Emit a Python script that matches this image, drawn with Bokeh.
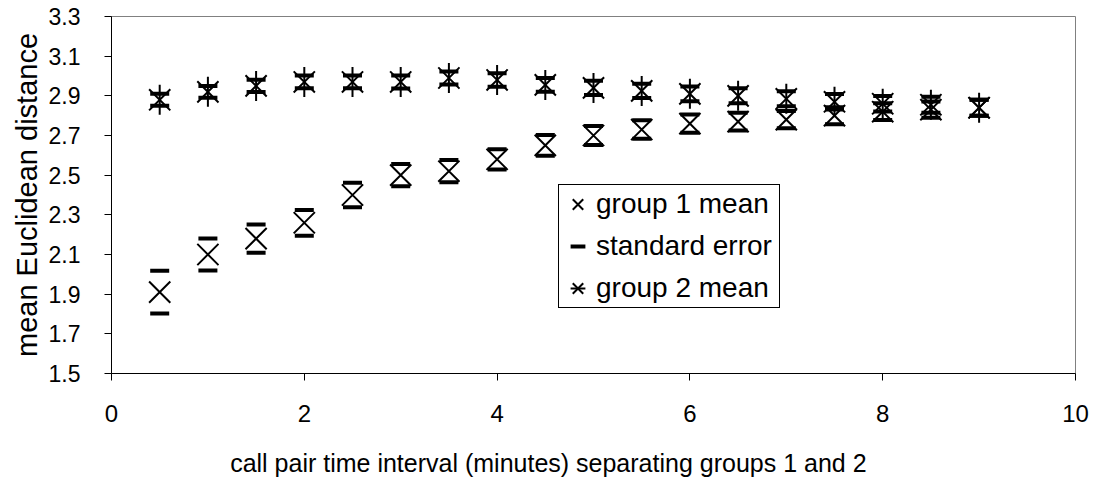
import numpy as np
from bokeh.plotting import figure
from bokeh.models import Range1d, FixedTicker, Legend, LegendItem, ColumnDataSource, NumeralTickFormatter
from bokeh.embed import file_html
from bokeh.resources import INLINE

# ---- data ----
interval = [0.5, 1.0, 1.5, 2.0, 2.5, 3.0, 3.5, 4.0, 4.5, 5.0, 5.5, 6.0, 6.5, 7.0, 7.5, 8.0, 8.5, 9.0]
group1_mean = [1.91, 2.10, 2.18, 2.26, 2.40, 2.50, 2.52, 2.58, 2.65, 2.70, 2.73, 2.76, 2.77, 2.78, 2.80, 2.82, 2.83, 2.84]
group1_se = [0.108, 0.081, 0.071, 0.065, 0.062, 0.056, 0.056, 0.051, 0.052, 0.048, 0.047, 0.046, 0.045, 0.044, 0.043, 0.042, 0.041, 0.040]
group2_mean = [2.88, 2.92, 2.95, 2.97, 2.97, 2.97, 2.99, 2.98, 2.955, 2.94, 2.925, 2.91, 2.90, 2.885, 2.87, 2.86, 2.855, 2.84]
group2_se = [0.030, 0.030, 0.031, 0.032, 0.032, 0.033, 0.033, 0.034, 0.035, 0.036, 0.036, 0.037, 0.038, 0.038, 0.039, 0.039, 0.040, 0.040]
x_ticks = [0, 2, 4, 6, 8, 10]
y_ticks = [1.5, 1.7, 1.9, 2.1, 2.3, 2.5, 2.7, 2.9, 3.1, 3.3]
x_title = "call pair time interval (minutes) separating groups 1 and 2"
y_title = "mean Euclidean distance"

FONT = "Liberation Sans"

g1 = np.array(group1_mean); s1 = np.array(group1_se)
g2 = np.array(group2_mean); s2 = np.array(group2_se)
xs = np.array(interval)
se_src = ColumnDataSource(dict(
    x=np.concatenate([xs, xs, xs, xs]),
    y=np.concatenate([g1 + s1, g1 - s1, g2 + s2, g2 - s2]),
))

p = figure(width=1096, height=479, output_backend="svg", toolbar_location=None,
           x_range=Range1d(0, 10), y_range=Range1d(1.5, 3.3),
           min_border_left=111, min_border_right=21, min_border_top=16, min_border_bottom=106)
p.xgrid.visible = False
p.ygrid.visible = False
p.outline_line_color = "#808080"
p.outline_line_width = 1
p.background_fill_color = "white"
p.border_fill_color = "white"

r1 = p.scatter(xs, g1, marker="x", size=30, line_color="black", line_width=2)
r_se = p.scatter("x", "y", source=se_src, marker="dash", size=19, line_color="black", line_width=4)
r2x = p.scatter(xs, g2, marker="x", size=30, line_color="black", line_width=2)
r2v = p.scatter(xs, g2, marker="dash", angle=np.pi / 2, size=30, line_color="black", line_width=2)

# axes
p.xaxis.ticker = FixedTicker(ticks=x_ticks)
p.yaxis.ticker = FixedTicker(ticks=y_ticks)
p.yaxis.formatter = NumeralTickFormatter(format="0.0")
for ax in (p.xaxis, p.yaxis):
    ax.axis_line_color = "black"
    ax.axis_line_width = 1
    ax.major_tick_line_color = "black"
    ax.major_tick_out = 7
    ax.major_tick_in = 0
    ax.minor_tick_line_color = None
    ax.major_label_text_font = FONT
    ax.major_label_text_color = "black"
    ax.axis_label_text_font = FONT
    ax.axis_label_text_color = "black"
    ax.axis_label_text_font_style = "normal"
p.xaxis.major_label_text_font_size = "24px"
p.yaxis.major_label_text_font_size = "23px"
p.xaxis.axis_label_text_font_size = "25px"
p.yaxis.axis_label_text_font_size = "29px"
p.xaxis.major_label_standoff = 24
p.yaxis.major_label_standoff = 24
p.xaxis.axis_label_standoff = 24
p.yaxis.axis_label_standoff = 3
# trailing no-break spaces shift the (frame-centred) title left, so that it is
# centred on the whole chart as in the reference
p.xaxis.axis_label = x_title + "\u00a0" * 13
p.yaxis.axis_label = y_title

legend = Legend(items=[
    LegendItem(label="group 1 mean", renderers=[r1]),
    LegendItem(label="standard error", renderers=[r_se]),
    LegendItem(label="group 2 mean", renderers=[r2x, r2v]),
], location=(447, 65))
legend.label_text_font = FONT
legend.label_text_font_size = "28px"
legend.label_text_color = "black"
legend.glyph_width = 37
legend.glyph_height = 38
legend.padding = 0
legend.spacing = 4
legend.label_standoff = 0
legend.label_width = 183
legend.margin = 0
legend.border_line_color = "black"
legend.border_line_width = 1
legend.border_line_alpha = 1
legend.background_fill_color = "white"
legend.background_fill_alpha = 1
p.add_layout(legend)

open("out.html", "w").write(file_html(p, INLINE))
